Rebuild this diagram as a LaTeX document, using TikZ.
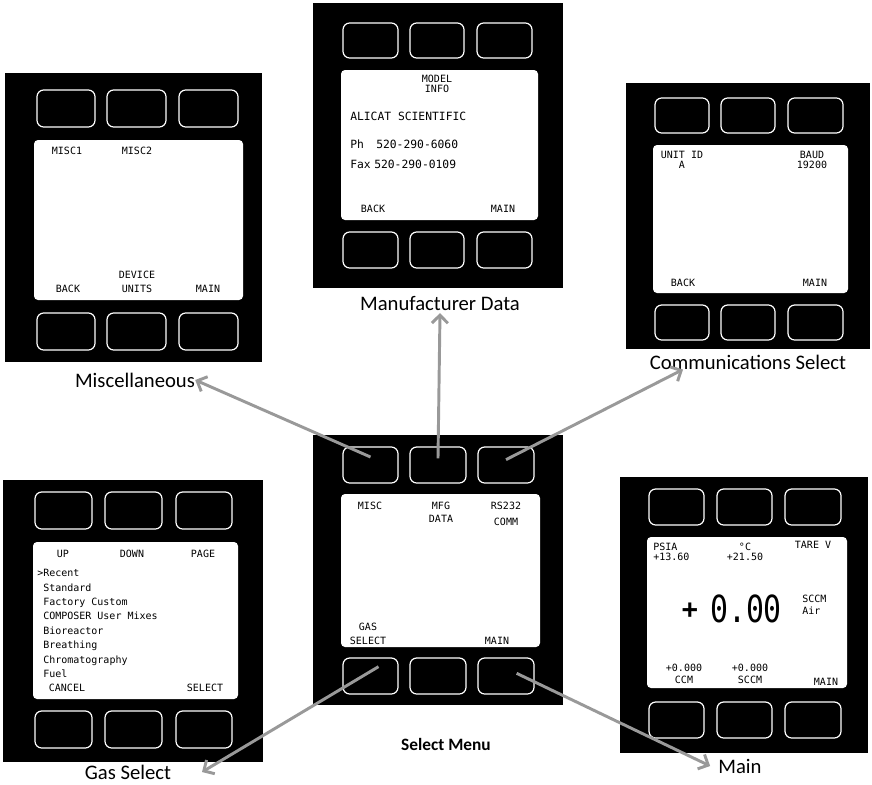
\documentclass[tikz,border=0pt]{standalone}
\usepackage{fontspec}
\setmainfont{Carlito}
\newfontfamily\lcdfont{DejaVu Sans Mono}
\newfontfamily\lcdbig{DejaVu Sans Mono}[FakeStretch=0.8]
\usetikzlibrary{fit,arrows.meta}

\begin{document}
\begin{tikzpicture}[x=0.75pt, y=-0.75pt,
  panel/.style={fill=black, inner sep=0pt},
  screen/.style={fill=white, rounded corners=3pt, inner sep=0pt},
  btn/.style={draw=white, line width=0.9pt, rounded corners=5pt, inner sep=0pt},
  lcd/.style={font={\lcdfont\fontsize{7.5}{10}\selectfont}, inner sep=0pt, align=center},
  lcdl/.style={lcd, anchor=west, align=left},
  title/.style={font={\fontsize{15.5}{18}\selectfont}, inner sep=0pt},
  arr/.style={-{Straight Barb[length=6pt,width=12pt]}, line width=2.2pt, draw=black!40}
]
\useasboundingbox (0,0) rectangle (872,785);

% Miscellaneous
\node[panel, fit={(5,73) (262,362)}] (mis) {};
\foreach \a/\b [count=\i] in {37/95,107/166,179/238} {
  \node[btn, fit={(\a,90) (\b,127)}] (mis-t\i) {};
  \node[btn, fit={(\a,313) (\b,350)}] (mis-b\i) {};
}
\node[screen, fit={(34,140) (243,300)}] (mis-scr) {};
\node[lcd] (mis-misc1) at (67,151) {MISC1};
\node[lcd] (mis-misc2) at (137,151) {MISC2};
\node[lcd] (mis-dev) at (137,282) {DEVICE\\UNITS};
\node[lcd] (mis-back) at (68,289) {BACK};
\node[lcd] (mis-main) at (208,289) {MAIN};
\node[title] (mis-lab) at (135,380) {Miscellaneous};

% Manufacturer Data
\node[panel, fit={(313,3) (563,288)}] (mfg) {};
\foreach \a/\b [count=\i] in {343/398,410/464,477/532} {
  \node[btn, fit={(\a,23) (\b,58)}] (mfg-t\i) {};
  \node[btn, fit={(\a,232) (\b,268)}] (mfg-b\i) {};
}
\node[screen, fit={(341,70) (538,220)}] (mfg-scr) {};
\node[lcd] (mfg-model) at (437,84) {MODEL\\[-3pt]INFO};
\node[lcdl, font={\lcdfont\fontsize{8.5}{10}\selectfont}] (mfg-name) at (350,116) {ALICAT SCIENTIFIC};
\node[lcdl, font={\lcdfont\fontsize{8.5}{10}\selectfont}] (mfg-ph) at (350,144) {Ph};
\node[lcdl, font={\lcdfont\fontsize{8.5}{10}\selectfont}] (mfg-phno) at (376,144) {520-290-6060};
\node[lcdl, font={\lcdfont\fontsize{8.5}{10}\selectfont}] (mfg-fax) at (350,164) {Fax};
\node[lcdl, font={\lcdfont\fontsize{8.5}{10}\selectfont}] (mfg-faxno) at (374,164) {520-290-0109};
\node[lcd] (mfg-back) at (373,209) {BACK};
\node[lcd] (mfg-main) at (503,209) {MAIN};
\node[title] (mfg-lab) at (440,303) {Manufacturer Data};

% Communications Select
\node[panel, fit={(626,83) (870,349)}] (com) {};
\foreach \a/\b [count=\i] in {655/709,721/775,788/843} {
  \node[btn, fit={(\a,98) (\b,133)}] (com-t\i) {};
  \node[btn, fit={(\a,305) (\b,340)}] (com-b\i) {};
}
\node[screen, fit={(653,145) (848,293)}] (com-scr) {};
\node[lcd] (com-id) at (682,160) {UNIT ID\\[-2pt]A};
\node[lcd] (com-baud) at (812,160) {BAUD\\[-2pt]19200};
\node[lcd] (com-back) at (683,283) {BACK};
\node[lcd] (com-main) at (815,283) {MAIN};
\node[title] (com-lab) at (748,362) {Communications Select};

% Select Menu
\node[panel, fit={(313,435) (563,705)}] (sel) {};
\foreach \a/\b [count=\i] in {343/398,410/466,478/534} {
  \node[btn, fit={(\a,447) (\b,483)}] (sel-t\i) {};
  \node[btn, fit={(\a,658) (\b,694)}] (sel-b\i) {};
}
\node[screen, fit={(341,494) (540,647)}] (sel-scr) {};
\node[lcd] (sel-misc) at (370,506) {MISC};
\node[lcd] (sel-mfg) at (441,512) {MFG\\DATA};
\node[lcd] (sel-comm) at (506,514) {RS232\\[2pt]COMM};
\node[lcd] (sel-gas) at (368,634) {GAS\\SELECT};
\node[lcd] (sel-main) at (497,641) {MAIN};
\node[title, font={\bfseries\fontsize{13}{15}\selectfont}] (sel-lab) at (446,744) {Select Menu};

% Gas Select
\node[panel, fit={(3,480) (263,762)}] (gas) {};
\foreach \a/\b [count=\i] in {35/92,105/162,176/232} {
  \node[btn, fit={(\a,492) (\b,529)}] (gas-t\i) {};
  \node[btn, fit={(\a,711) (\b,748)}] (gas-b\i) {};
}
\node[screen, fit={(33,542) (238,699)}] (gas-scr) {};
\node[lcd] (gas-up) at (63,554) {UP};
\node[lcd] (gas-down) at (132,554) {DOWN};
\node[lcd] (gas-page) at (203,554) {PAGE};
\node[lcdl, font={\lcdfont\fontsize{7.5}{10.8}\selectfont}] (gas-list) at (37,623.5)
  {>Recent\\\hphantom{>}Standard\\\hphantom{>}Factory Custom\\\hphantom{>}COMPOSER User Mixes\\\hphantom{>}Bioreactor\\\hphantom{>}Breathing\\\hphantom{>}Chromatography\\\hphantom{>}Fuel};
\node[lcd] (gas-cancel) at (67,688) {CANCEL};
\node[lcd] (gas-select) at (205,688) {SELECT};
\node[title] (gas-lab) at (128,772) {Gas Select};

% Main
\node[panel, fit={(620,477) (868,753)}] (mai) {};
\foreach \a/\b [count=\i] in {649/704,717/772,785/841} {
  \node[btn, fit={(\a,489) (\b,525)}] (mai-t\i) {};
  \node[btn, fit={(\a,702) (\b,738)}] (mai-b\i) {};
}
\node[screen, fit={(647,537) (847,688)}] (mai-scr) {};
\node[lcdl] (mai-psia) at (653,552) {PSIA\\[-2pt]+13.60};
\node[lcd] (mai-temp) at (745,552) {°C\\[-2pt]+21.50};
\node[lcd] (mai-tare) at (813,545) {TARE V};
\node[lcdl] (mai-unit) at (802,605) {SCCM\\[-1pt]Air};
\node[inner sep=0pt, font={\lcdfont\bfseries\fontsize{20}{20}\selectfont}] (mai-plus) at (690,611) {+};
\node[inner sep=0pt, font={\lcdbig\fontsize{28}{28}\selectfont}] (mai-flow) at (746,609) {0.00};
\node[lcd] (mai-vol) at (684,674) {+0.000\\[-1pt]CCM};
\node[lcd] (mai-mass) at (750,674) {+0.000\\[-1pt]SCCM};
\node[lcd] (mai-main) at (826,682) {MAIN};
\node[title] (mai-lab) at (740,766) {Main};

% menu arrows
\draw[arr] ([yshift=6pt]sel-t1.center) -- (mis-lab.east);
\draw[arr] ([yshift=5pt]sel-t2.center) -- ([yshift=-2pt]mfg-lab.south);
\draw[arr] ([yshift=4pt]sel-t3.center) -- ([xshift=25pt]com-lab.south west);
\draw[arr] ([xshift=6pt,yshift=7pt]sel-b1.center) -- ([xshift=23pt]gas-lab.east);
\draw[arr] ([xshift=8pt,yshift=2pt]sel-b3.center) -- ([xshift=-6pt]mai-lab.west);
\end{tikzpicture}
\end{document}
